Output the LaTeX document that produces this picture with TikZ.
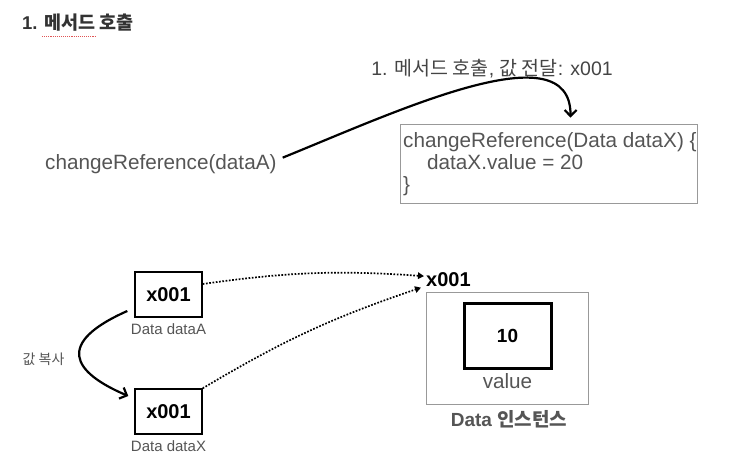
\documentclass[tikz,border=0pt]{standalone}
\usepackage{fontspec}
\setmainfont{Liberation Sans}
\newfontfamily\kr{Noto Sans CJK KR}
\usetikzlibrary{arrows.meta}
\definecolor{txtgray}{HTML}{555555}
\definecolor{lblgray}{HTML}{444444}
\definecolor{titlec}{HTML}{333333}
\definecolor{framec}{HTML}{999999}
\definecolor{ulred}{HTML}{E05555}
\begin{document}
\begin{tikzpicture}[x=1pt,y=-1pt,
  txt/.style={inner sep=0pt, text=txtgray},
  big/.style={font=\fontsize{20.7}{22}\selectfont},
  small/.style={font=\fontsize{15}{17}\selectfont},
  refbox/.style={draw=black, line width=1.4pt, minimum width=67pt, minimum height=45pt, inner sep=0pt, font=\fontsize{20}{22}\selectfont\bfseries},
  grayframe/.style={draw=framec, line width=0.9pt, inner sep=0pt},
  solidarrow/.style={line width=2.2pt, -{Straight Barb[length=6pt,width=12pt,line width=2.2pt]}},
  dotarrow/.style={line width=1.7pt, dash pattern=on 1.7pt off 1.6pt, -{Triangle[length=6pt,width=6.5pt]}},
]
\path[use as bounding box] (0,0) rectangle (738,460);

% title
\node[inner sep=0pt, anchor=base west, text=titlec, font=\fontsize{18.5}{20}\selectfont\bfseries] (title) at (22,30) {1. {\kr 메서드 호출}};
\draw[ulred, line width=1.1pt, dash pattern=on 1.1pt off 1pt] (42,36.5) -- (95,36.5);

% call and code
\node[txt, big, anchor=base west] (call) at (45,169) {changeReference(dataA)};
\node[grayframe, minimum width=297pt, minimum height=79pt] (code) at (548.5,163.5) {};
\node[txt, big, anchor=base west] (code1) at (403,147) {changeReference(Data dataX) \{};
\node[txt, big, anchor=base west] (code2) at (427,169) {dataX.value = 20};
\node[txt, big, anchor=base west] (code3) at (403,191) {\}};
\node[inner sep=0pt, text=lblgray, anchor=base, font=\fontsize{19.5}{21}\selectfont] (calllbl) at (492,75) {1. {\kr 메서드 호출}, {\kr 값 전달}: x001};
\draw[solidarrow] ([xshift=6pt,yshift=6pt]call.east) .. controls (400,110) and (571,30) .. ([xshift=22pt,yshift=6pt]code.north);

% references
\node[refbox] (A) at (168.5,294.5) {x001};
\node[txt, small, anchor=base] (Alab) at (168.5,334) {Data dataA};
\node[refbox] (X) at (168.5,411.5) {x001};
\node[txt, small, anchor=base] (Xlab) at (168.5,451) {Data dataX};
\node[txt, font=\kr\fontsize{14}{16}\selectfont] (copylbl) at (43.5,359) {값 복사};
\draw[solidarrow] ([xshift=-7pt,yshift=-16.5pt]A.west) .. controls (55,343) and (72,372) .. ([xshift=-6pt,yshift=15.5pt]X.west);

% instance
\node[inner sep=0pt, anchor=base west, font=\fontsize{20}{22}\selectfont\bfseries] (addr) at (426,286.5) {x001};
\node[grayframe, minimum width=162pt, minimum height=112pt] (inst) at (507,348) {};
\node[draw=black, line width=3pt, minimum width=87pt, minimum height=65pt, inner sep=0pt, font=\fontsize{19}{21}\selectfont\bfseries] (val) at (507.5,335.5) {10};
\node[txt, big, anchor=base] (vallbl) at (507.5,388) {value};
\node[txt, anchor=base, font=\fontsize{19}{21}\selectfont\bfseries] (instlbl) at (509,426) {Data {\kr 인스턴스}};

\draw[dotarrow] ([yshift=10.5pt]A.east) to[bend left=6] ([xshift=-2pt,yshift=3.5pt]addr.west);
\draw[dotarrow] (X.north east) to[bend left=6] ([xshift=-5pt,yshift=-8pt]addr.west);
\end{tikzpicture}
\end{document}
